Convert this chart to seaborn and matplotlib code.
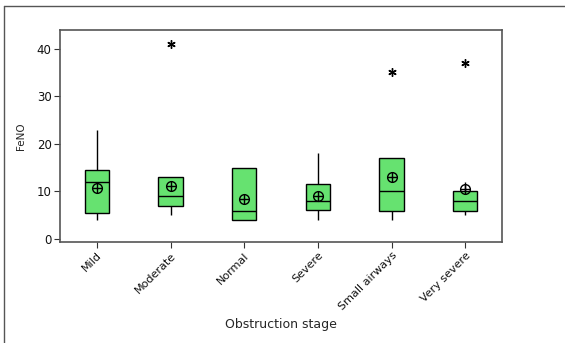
import seaborn as sns
import matplotlib.pyplot as plt
import pandas as pd
from matplotlib.lines import Line2D

# FeNO values per obstruction stage
mild = [4, 5, 5.5, 6, 12, 13, 14.5, 14.5, 23]
moderate = [5, 5, 5, 7, 7, 8, 9, 9, 9, 13, 13, 13, 41]
normal = [4, 4, 4, 5, 6, 7, 15, 15, 15]
severe = [4, 6, 6.2, 7, 8, 9, 11.5, 12, 18]
small_airways = [4, 6, 6, 9, 10, 14, 17, 17, 35]
very_severe = [5, 6, 6, 6, 8, 8, 8, 9, 10, 10, 11, 12, 37]

stages = ['Mild', 'Moderate', 'Normal', 'Severe', 'Small airways', 'Very severe']
groups = [mild, moderate, normal, severe, small_airways, very_severe]
y_ticks = [0, 10, 20, 30, 40]

rows = []
for name, vals in zip(stages, groups):
    for v in vals:
        rows.append({'Obstruction stage': name, 'FeNO': v})
df = pd.DataFrame(rows)

sns.set_style('white')
plt.rcParams['font.family'] = ['DejaVu Sans']

fig = plt.figure(figsize=(5.65, 3.43), dpi=100)
ax = fig.add_axes([0.1062, 0.2945, 0.7823, 0.618])

sns.boxplot(data=df, x='Obstruction stage', y='FeNO', order=stages,
            color='#66E270', saturation=1, width=0.33, linewidth=1.0,
            linecolor='black', whis=1.5,
            flierprops=dict(marker=(6, 2, 0), markersize=6, markeredgewidth=1.0,
                            markeredgecolor='black'),
            capprops=dict(linewidth=0), ax=ax)

# mean symbols: open circle with a cross
sns.pointplot(data=df, x='Obstruction stage', y='FeNO', order=stages,
              estimator='mean', errorbar=None, linestyle='none',
              marker='o', markersize=7, markerfacecolor='none',
              markeredgecolor='black', markeredgewidth=1.0, color='black', ax=ax)
sns.pointplot(data=df, x='Obstruction stage', y='FeNO', order=stages,
              estimator='mean', errorbar=None, linestyle='none',
              marker='+', markersize=7, markeredgewidth=1.0, color='black', ax=ax)

ax.set_xlim(-0.5, 5.5)
ax.set_ylim(-0.6, 43.9)
ax.set_yticks(y_ticks)
ax.set_xticks(range(len(stages)))
ax.set_xticklabels(stages, rotation=45, ha='right', rotation_mode='anchor', fontsize=8)
ax.tick_params(axis='y', labelsize=8.5)
ax.tick_params(axis='both', direction='out', length=4, width=0.8, color='#333333',
               bottom=True, left=True, pad=2, labelcolor='#111111')
ax.set_xlabel('Obstruction stage', fontsize=9, labelpad=4)
ax.set_ylabel('FeNO', fontsize=7.5, labelpad=8)

for s in ax.spines.values():
    s.set_color('#555555')
    s.set_linewidth(1.2)

# outer frame
fig.add_artist(Line2D([0.007, 0.007], [0.0, 0.9825], color='#555555', linewidth=1.0))
fig.add_artist(Line2D([0.007, 1.0], [0.9825, 0.9825], color='#555555', linewidth=1.0))

fig.savefig('out.png', dpi=100)
